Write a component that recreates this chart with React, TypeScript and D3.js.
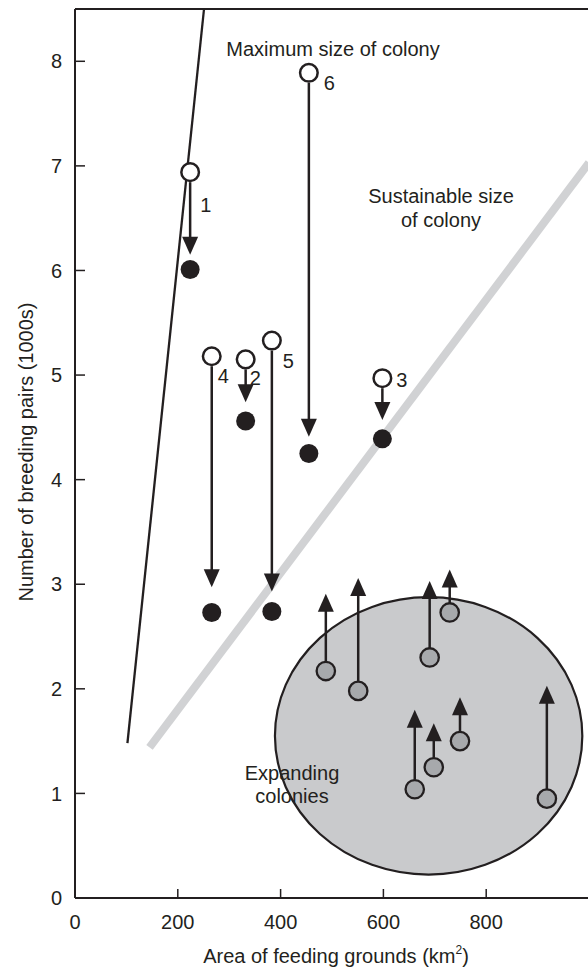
import React from 'react'
import * as d3 from 'd3'

// numbered colonies: maximum size (open) -> size now (filled)
const colonyIds = ['1', '2', '3', '4', '5', '6']
const colonyArea = [224, 332, 598, 266, 383, 455]
const maxPairs = [6.94, 5.15, 4.97, 5.18, 5.33, 7.89]
const nowPairs = [6.01, 4.56, 4.39, 2.73, 2.74, 4.25]
const arrowTipPairs = [6.15, 4.74, 4.57, 2.97, 2.93, 4.41]

// expanding colonies (grey) with arrows up
const expArea = [488, 551, 690, 729, 661, 698, 749, 918]
const expPairs = [2.17, 1.98, 2.3, 2.73, 1.04, 1.25, 1.5, 0.95]
const expTipPairs = [2.91, 3.06, 3.03, 3.14, 1.8, 1.67, 1.92, 2.03]

// reference lines [area, pairs]
const maxLine = [[102, 1.48], [251, 8.5]]
const sustLine = [[145, 1.44], [1000, 7.03]]

// expanding colonies region
const ellipseCenter = [688, 1.55]
const ellipseRadius = [299, 1.326]

const xTicks = [0, 200, 400, 600, 800]
const yTicks = [0, 1, 2, 3, 4, 5, 6, 7, 8]

// label nudges in px, same order as colonyIds
const labelOffsets = [[10, 40], [4, 26], [14, 9], [6, 27], [11, 27], [15, 17]]

const ink = '#231f20'
const font = 'Liberation Sans, Arial, sans-serif'

export default function App() {
    const width = 588
    const height = 971

    const x = d3.scaleLinear().domain([0, 1000]).range([75, 589])
    const y = d3.scaleLinear().domain([0, 8.5]).range([898, 9])

    const line = d3.line<number[]>()
        .x(d => x(d[0]))
        .y(d => y(d[1]))

    const headLen = 18
    const headHalf = 8

    // arrow from (px, fromY) to tip at (px, toY)
    const arrow = (px: number, fromY: number, toY: number, key: string) => {
        const dir = toY > fromY ? 1 : -1
        const baseY = toY - dir * headLen
        return (
            <g key={key}>
                <line x1={px} x2={px} y1={fromY} y2={baseY + dir} stroke={ink} strokeWidth={2.5} />
                <path d={`M${px},${toY}L${px - headHalf},${baseY}L${px + headHalf},${baseY}Z`} fill={ink} />
            </g>
        )
    }

    return (
        <div style={{ position: 'absolute', left: 0, top: 0 }}>
            <svg width={width} height={height} fontFamily={font}>
                {/* expanding colonies ellipse */}
                <ellipse
                    cx={x(ellipseCenter[0])}
                    cy={y(ellipseCenter[1])}
                    rx={x(ellipseRadius[0]) - x(0)}
                    ry={y(0) - y(ellipseRadius[1])}
                    fill='#c9cacc'
                    stroke={ink}
                    strokeWidth={2.2}
                />

                {/* sustainable size line */}
                <path d={line(sustLine) || ''} stroke='#d1d2d4' strokeWidth={8} fill='none' />

                {/* maximum size line */}
                <path d={line(maxLine) || ''} stroke={ink} strokeWidth={2.3} fill='none' />

                {/* axes */}
                <line x1={x(0)} x2={x(0)} y1={y(8.5)} y2={y(0)} stroke={ink} strokeWidth={2} />
                <line x1={x(0)} x2={width} y1={y(0)} y2={y(0)} stroke={ink} strokeWidth={2} />
                <line x1={x(0)} x2={width} y1={y(8.5)} y2={y(8.5)} stroke={ink} strokeWidth={2} />

                {yTicks.map(t => (
                    <g key={'y' + t}>
                        {t > 0 && <line x1={x(0)} x2={x(0) + 10} y1={y(t)} y2={y(t)} stroke={ink} strokeWidth={1.5} />}
                        <text x={62} y={y(t)} dy='0.36em' textAnchor='end' fontSize={20} fill={ink}>{t}</text>
                    </g>
                ))}
                {xTicks.map(t => (
                    <g key={'x' + t}>
                        {t > 0 && <line x1={x(t)} x2={x(t)} y1={y(0)} y2={y(0) - 9} stroke={ink} strokeWidth={1.5} />}
                        <text x={x(t)} y={929} textAnchor='middle' fontSize={20} fill={ink}>{t}</text>
                    </g>
                ))}

                <text x={336} y={963} textAnchor='middle' fontSize={20} fill={ink}>
                    Area of feeding grounds (km<tspan fontSize={12} dy={-9}>2</tspan><tspan dy={9}>)</tspan>
                </text>
                <text transform={`translate(33,452) rotate(-90)`} textAnchor='middle' fontSize={20} fill={ink}>
                    Number of breeding pairs (1000s)
                </text>

                {/* annotations */}
                <text x={333} y={56} textAnchor='middle' fontSize={20} fill={ink}>Maximum size of colony</text>
                <text x={441} y={203} textAnchor='middle' fontSize={20} fill={ink}>
                    <tspan x={441}>Sustainable size</tspan>
                    <tspan x={441} dy={24}>of colony</tspan>
                </text>
                <text x={292} y={780} textAnchor='middle' fontSize={20} fill={ink}>
                    <tspan x={292}>Expanding</tspan>
                    <tspan x={292} dy={23}>colonies</tspan>
                </text>

                {/* declining colonies */}
                {colonyIds.map((id, i) => {
                    const px = x(colonyArea[i])
                    const top = y(maxPairs[i])
                    return (
                        <g key={'c' + id}>
                            {arrow(px, top + 10, y(arrowTipPairs[i]), 'a' + id)}
                            <circle cx={px} cy={top} r={8.8} fill='#fff' stroke={ink} strokeWidth={2.5} />
                            <circle cx={px} cy={y(nowPairs[i])} r={9.5} fill={ink} />
                            <text x={px + labelOffsets[i][0]} y={top + labelOffsets[i][1]} fontSize={20} fill={ink}>{id}</text>
                        </g>
                    )
                })}

                {/* expanding colonies */}
                {expArea.map((a, i) => {
                    const px = x(a)
                    const cy = y(expPairs[i])
                    return (
                        <g key={'e' + i}>
                            {arrow(px, cy - 9.5, y(expTipPairs[i]), 'u' + i)}
                            <circle cx={px} cy={cy} r={9.2} fill='#a7a9ac' stroke={ink} strokeWidth={2.3} />
                        </g>
                    )
                })}
            </svg>
        </div>
    )
}
